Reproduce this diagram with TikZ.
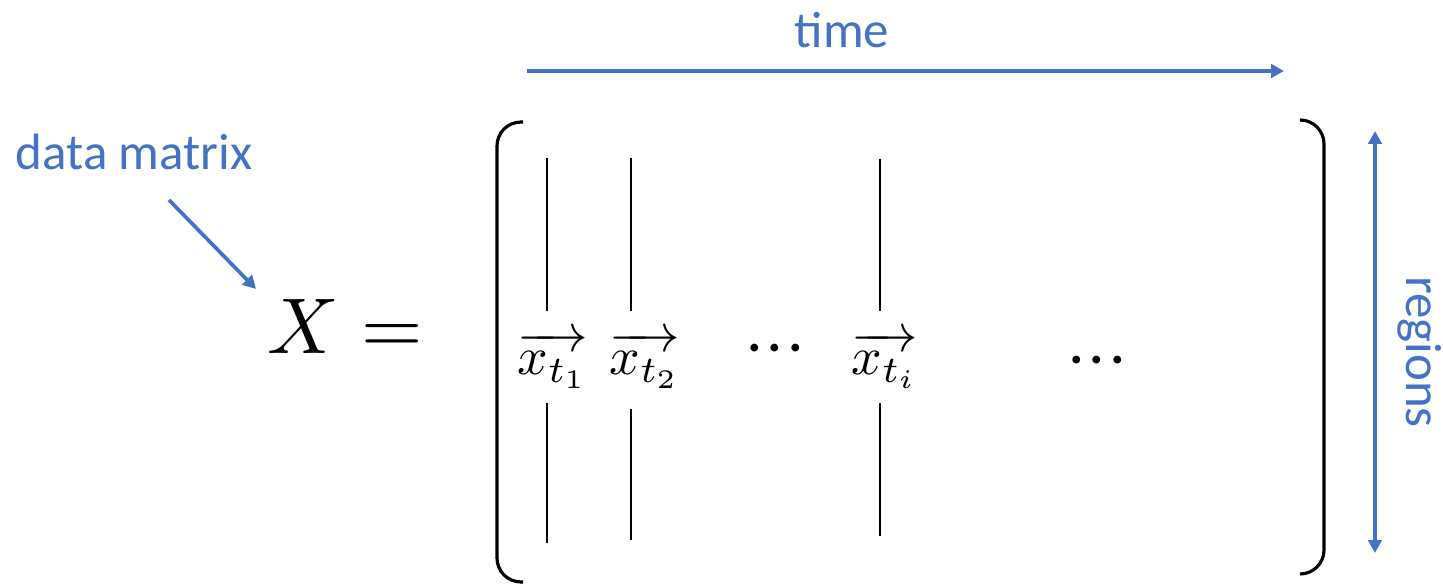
\documentclass[tikz,border=0pt]{standalone}
\usepackage{amsmath,amssymb}
\usepackage{fontspec}
\setsansfont{Carlito}
\usepackage{tikz}
\usetikzlibrary{arrows.meta,calc,positioning}
\usepackage{xcolor}
\definecolor{accent}{HTML}{4472C4}
\tikzset{bluetip/.tip={Triangle[length=2.6mm,width=2.7mm]}, bluearrow/.style={draw=accent,line width=2.1pt,-bluetip}, bluelabel/.style={text=accent,font=\fontsize{29}{34}\sffamily,inner sep=0pt}, bracketline/.style={line width=1.8pt,black,rounded corners=4.8mm}, colline/.style={line width=1.1pt,black}, vecnote/.style={scale=3.05,inner sep=0pt}, dotnote/.style={scale=4.2,inner sep=0pt}, bignote/.style={scale=4.5,inner sep=0pt}}

\begin{document}
\begin{tikzpicture}[x=0.02cm,y=-0.02cm]
\useasboundingbox (0,0) rectangle (1443,584);
% labels
\node[bluelabel] (time) at (842,30) {time};
\node[bluelabel] (dm) at (134,152) {data matrix};
\node[bluelabel,rotate=-90] (reg) at (1420,352) {regions};
\node[bignote] (X) at (345,326) {$X =$};
% axes
\coordinate (t0) at (527,71);
\coordinate (t1) at (1284,71);
\draw[bluearrow] (t0) -- (t1);
\coordinate (r0) at (1375,131);
\coordinate (r1) at (1375,553);
\draw[bluearrow,bluetip-bluetip] (r0) -- (r1);
\coordinate (p0) at (169,200);
\coordinate (p1) at (256,289);
\draw[bluearrow] (p0) -- (p1);
% brackets
\draw[bracketline] (523,122) -- (497,122) -- (497,582) -- (523,582);
\draw[bracketline] (1300,120) -- (1324,120) -- (1324,574) -- (1300,574);
% columns
\node[vecnote] (v1) at (553,360) {$\overrightarrow{x_{t_1}}$};
\node[vecnote] (v2) at (645,360) {$\overrightarrow{x_{t_2}}$};
\node[dotnote,anchor=base] (d1) at (775,366) {${\cdot}{\cdot}{\cdot}$};
\node[vecnote] (vi) at (885,360) {$\overrightarrow{x_{t_i}}$};
\node[dotnote,anchor=base] (d2) at (1097,378) {${\cdot}{\cdot}{\cdot}$};
\foreach \x/\a/\b/\c/\d in {547/158/311/403/543, 631/158/311/409/540, 880/159/311/403/536}{
  \draw[colline] (\x,\a) -- (\x,\b);
  \draw[colline] (\x,\c) -- (\x,\d);
}
\end{tikzpicture}
\end{document}
